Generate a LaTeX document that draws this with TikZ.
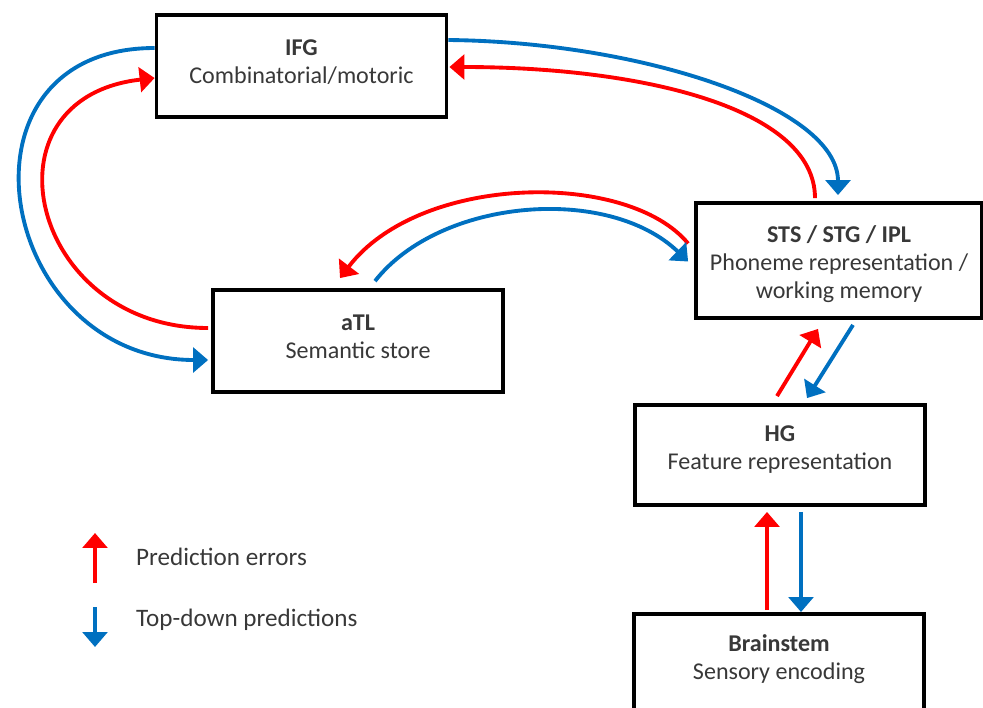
\documentclass[tikz,border=0pt]{standalone}
\usepackage{fontspec}
\setmainfont{Carlito}
\usepackage{tikz}
\usetikzlibrary{arrows.meta,calc}
\definecolor{errred}{RGB}{255,0,0}
\definecolor{predblue}{RGB}{0,112,192}
\tikzset{
  region/.style={draw,line width=2.2pt,fill=white,align=center,text=black!78,
    font=\fontsize{13.7}{16}\selectfont,minimum width=5.8cm},
  err/.style={draw=errred,line width=2.2pt,-{Triangle[width=14pt,length=8.5pt]}},
  pred/.style={draw=predblue,line width=2.2pt,-{Triangle[width=14pt,length=8.5pt]}},
  key/.style={anchor=west,text=black!78,font=\fontsize{14.3}{16}\selectfont}
}
\begin{document}
\begin{tikzpicture}[x=0.02cm,y=-0.02cm]
  \useasboundingbox (0,0) rectangle (983,707);
  \node[region,minimum height=2.04cm,text depth=0.18cm] (ifg) at (301.5,66) {\textbf{IFG}\\Combinatorial/motoric};
  \node[region,minimum height=2.04cm,text depth=0.18cm] (atl) at (358,341) {\textbf{aTL}\\Semantic store};
  \node[region,minimum width=5.72cm,minimum height=2.3cm,text height=1.62cm,text depth=0.1cm] (sts) at (839,260.5) {\textbf{STS / STG / IPL}\\Phoneme representation /\\working memory};
  \node[region,minimum height=2cm,text depth=0.3cm] (hg) at (780,455) {\textbf{HG}\\Feature representation};
  \node[region,minimum height=2.6cm,anchor=north,text depth=0.86cm] (brain) at (779,612) {\textbf{Brainstem}\\Sensory encoding};
  \draw[pred] ($(ifg.west)+(0,-18)$) .. controls +(-212,0) and +(-212,0) .. ($(atl.west)+(-3,19)$);
  \draw[err] ($(atl.west)+(-3,-13)$) .. controls +(-178,0) and +(-178,20) .. ($(ifg.west)+(0,12)$);
  \draw[pred] ($(ifg.east)+(0,-26)$) .. controls +(193,2) and +(0,-88) .. ($(sts.north)+(-1,-6)$);
  \draw[err] ($(sts.north)+(-24,-3)$) .. controls +(0,-90) and +(192,0) .. ($(ifg.east)+(1,1)$);
  \draw[err] ($(sts.west)+(-6,-17)$) .. controls +(-60,-73) and +(80,-105) .. ($(atl.north)+(-18,-10)$);
  \draw[pred] ($(atl.north)+(17,-7)$) .. controls +(65,-83) and +(-80,-77) .. ($(sts.west)+(-6,1)$);
  \draw[err] ($(hg.north)+(-3,-7)$) -- ($(sts.south)+(-21,9)$);
  \draw[pred] ($(sts.south)+(14,5)$) -- ($(hg.north)+(27,-5)$);
  \draw[err] ($(brain.north)+(-12,-2)$) -- ($(hg.south)+(-13,5)$);
  \draw[pred] ($(hg.south)+(21,5)$) -- ($(brain.north)+(22,0)$);
  \coordinate (errfoot) at (95,583);
  \coordinate (errtip) at (95,533);
  \coordinate (predfoot) at (95,607);
  \coordinate (predtip) at (95,647);
  \draw[err] (errfoot) -- (errtip);
  \draw[pred] (predfoot) -- (predtip);
  \node[key] (errkey) at (130,557) {Prediction errors};
  \node[key] (predkey) at (130,620) {Top-down predictions};
\end{tikzpicture}
\end{document}
